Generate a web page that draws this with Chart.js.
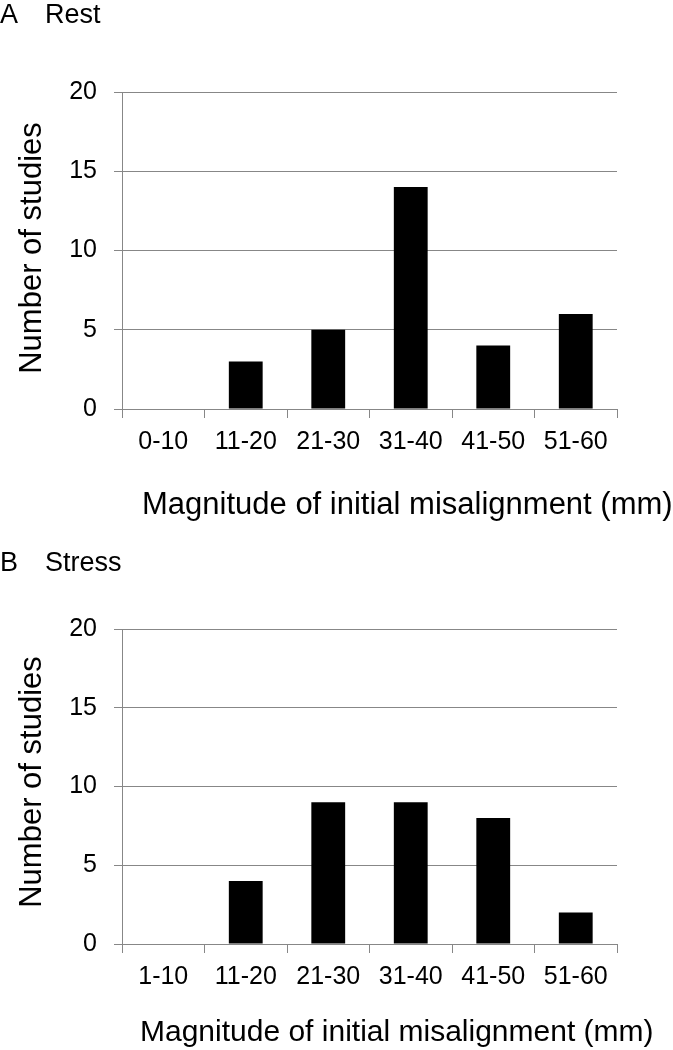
<!DOCTYPE html>
<html>
<head>
<meta charset="utf-8">
<script src="https://cdn.jsdelivr.net/npm/chart.js@4/dist/chart.umd.min.js"></script>
<style>
  body { margin: 0; background: #fff; }
  #page { position: relative; width: 673px; height: 1050px; overflow: hidden;
          font-family: 'Liberation Sans', Arial, sans-serif; color: #000; }
  .box { position: absolute; left: 0; width: 673px; height: 525px; }
  .txt { position: absolute; white-space: nowrap; line-height: 1; }
  .panel { font-size: 27px; }
  .ytitle { transform: translate(-50%, -50%) rotate(-90deg); font-size: 31px; }
</style>
</head>
<body>
<div id="page">
  <div class="box" style="top:0"><canvas id="graficoA" width="673" height="525"></canvas></div>
  <div class="box" style="top:525px"><canvas id="graficoB" width="673" height="525"></canvas></div>

  <div class="txt panel" style="left:0;top:1px">A</div>
  <div class="txt panel" style="left:45px;top:1px">Rest</div>
  <div class="txt ytitle" style="left:30px;top:248px">Number of studies</div>
  <div class="txt" style="left:142px;top:488px;font-size:31px">Magnitude of initial misalignment (mm)</div>

  <div class="txt panel" style="left:0;top:549px">B</div>
  <div class="txt panel" style="left:45px;top:549px">Stress</div>
  <div class="txt ytitle" style="left:30px;top:782px">Number of studies</div>
  <div class="txt" style="left:140px;top:1016px;font-size:30px">Magnitude of initial misalignment (mm)</div>
</div>

<script>
// categories
var restLabels = ['0-10', '11-20', '21-30', '31-40', '41-50', '51-60'];
var stressLabels = ['1-10', '11-20', '21-30', '31-40', '41-50', '51-60'];

// number of studies per bin
var restCounts = [0, 3, 5, 14, 4, 6];
var stressCounts = [0, 4, 9, 9, 8, 2];

// y axis ticks
var yMax = 20;
var yStep = 5;

var gray = '#878787';
var font = { family: "'Liberation Sans', Arial, sans-serif", size: 25 };

function makeChart(id, labels, values, padTop, xHeight) {
    var ctx = document.querySelector(id).getContext('2d');
    return new Chart(ctx, {
        type: 'bar',
        data: {
            labels: labels,
            datasets: [{
                data: values,
                backgroundColor: '#000',
                borderWidth: 0,
                barPercentage: 0.41,
                categoryPercentage: 1
            }]
        },
        options: {
            responsive: false,
            animation: false,
            layout: { padding: { top: padTop, right: 56, left: 0, bottom: 0 } },
            plugins: { legend: { display: false }, tooltip: { enabled: false } },
            scales: {
                x: {
                    grid: { drawOnChartArea: false, drawTicks: true, tickLength: 9, color: gray },
                    border: { color: gray, width: 1 },
                    ticks: { color: '#000', font: font, padding: 9, maxRotation: 0 },
                    afterFit: function (scale) { scale.height = xHeight; }
                },
                y: {
                    min: 0,
                    max: yMax,
                    grid: { color: gray, tickLength: 8 },
                    border: { color: gray, width: 1 },
                    ticks: { stepSize: yStep, color: '#000', font: font, padding: 17 },
                    afterFit: function (scale) { scale.width = 122; }
                }
            }
        }
    });
}

var chartA = makeChart('#graficoA', restLabels, restCounts, 92, 116);
var chartB = makeChart('#graficoB', stressLabels, stressCounts, 104, 106);
</script>
</body>
</html>
